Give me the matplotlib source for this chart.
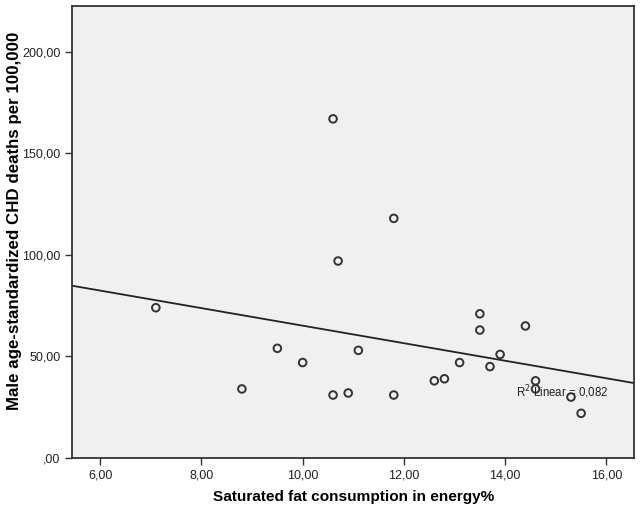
import numpy as np
import matplotlib
matplotlib.use('Agg')
import matplotlib.pyplot as plt

# saturated fat (energy%) vs male CHD deaths per 100,000
sat_fat = [7.1, 8.8, 9.5, 10.0, 10.6, 10.7, 11.8, 10.6, 10.9, 11.1, 11.8,
           12.6, 12.8, 13.1, 13.5, 13.5, 13.7, 13.9, 14.4, 14.6, 14.6, 15.3, 15.5]
chd_deaths = [74, 34, 54, 47, 167, 97, 118, 31, 32, 53, 31,
              38, 39, 47, 71, 63, 45, 51, 65, 38, 34, 30, 22]
x_ticks = [6, 8, 10, 12, 14, 16]
y_ticks = [0, 50, 100, 150, 200]

plt.rcParams['font.family'] = ['Liberation Sans', 'DejaVu Sans']

def comma(v):
    s = '%.2f' % v
    s = s.replace('.', ',')
    if s.startswith('0,'):
        s = s[1:]
    return s

fig = plt.figure(figsize=(6.41, 5.14), dpi=100)
ax = fig.add_axes([0.1128, 0.109, 0.8767, 0.879])
ax.set_facecolor('#f0f0f0')

ax.scatter(sat_fat, chd_deaths, s=30, facecolors='none', edgecolors='#333333', linewidths=1.4, zorder=3)

# linear fit line
slope, intercept = np.polyfit(sat_fat, chd_deaths, 1)
xl = np.array([5.45, 16.55])
ax.plot(xl, intercept + slope * xl, color='#222222', lw=1.3, zorder=2)

ax.text(14.22, 30, 'R$^2$ Linear = 0,082', fontsize=8.3, color='#222222', zorder=4)

ax.set_xlim(5.45, 16.55)
ax.set_ylim(0, 222.5)
ax.set_xticks(x_ticks)
ax.set_xticklabels([comma(v) for v in x_ticks])
ax.set_yticks(y_ticks)
ax.set_yticklabels([comma(v) for v in y_ticks])
ax.tick_params(direction='out', length=5, width=1, color='#333333', labelsize=9, labelcolor='#222222')

for side in ['top', 'right', 'left', 'bottom']:
    ax.spines[side].set_color('#333333')
    ax.spines[side].set_linewidth(1.3)

ax.set_xlabel('Saturated fat consumption in energy%', fontsize=11.1, fontweight='bold')
ax.xaxis.set_label_coords(0.5, -0.07)
ax.set_ylabel('Male age-standardized CHD deaths per 100,000', fontsize=12.2, fontweight='bold')
ax.yaxis.set_label_coords(-0.09, 0.524)

fig.savefig('out.png', dpi=100)
